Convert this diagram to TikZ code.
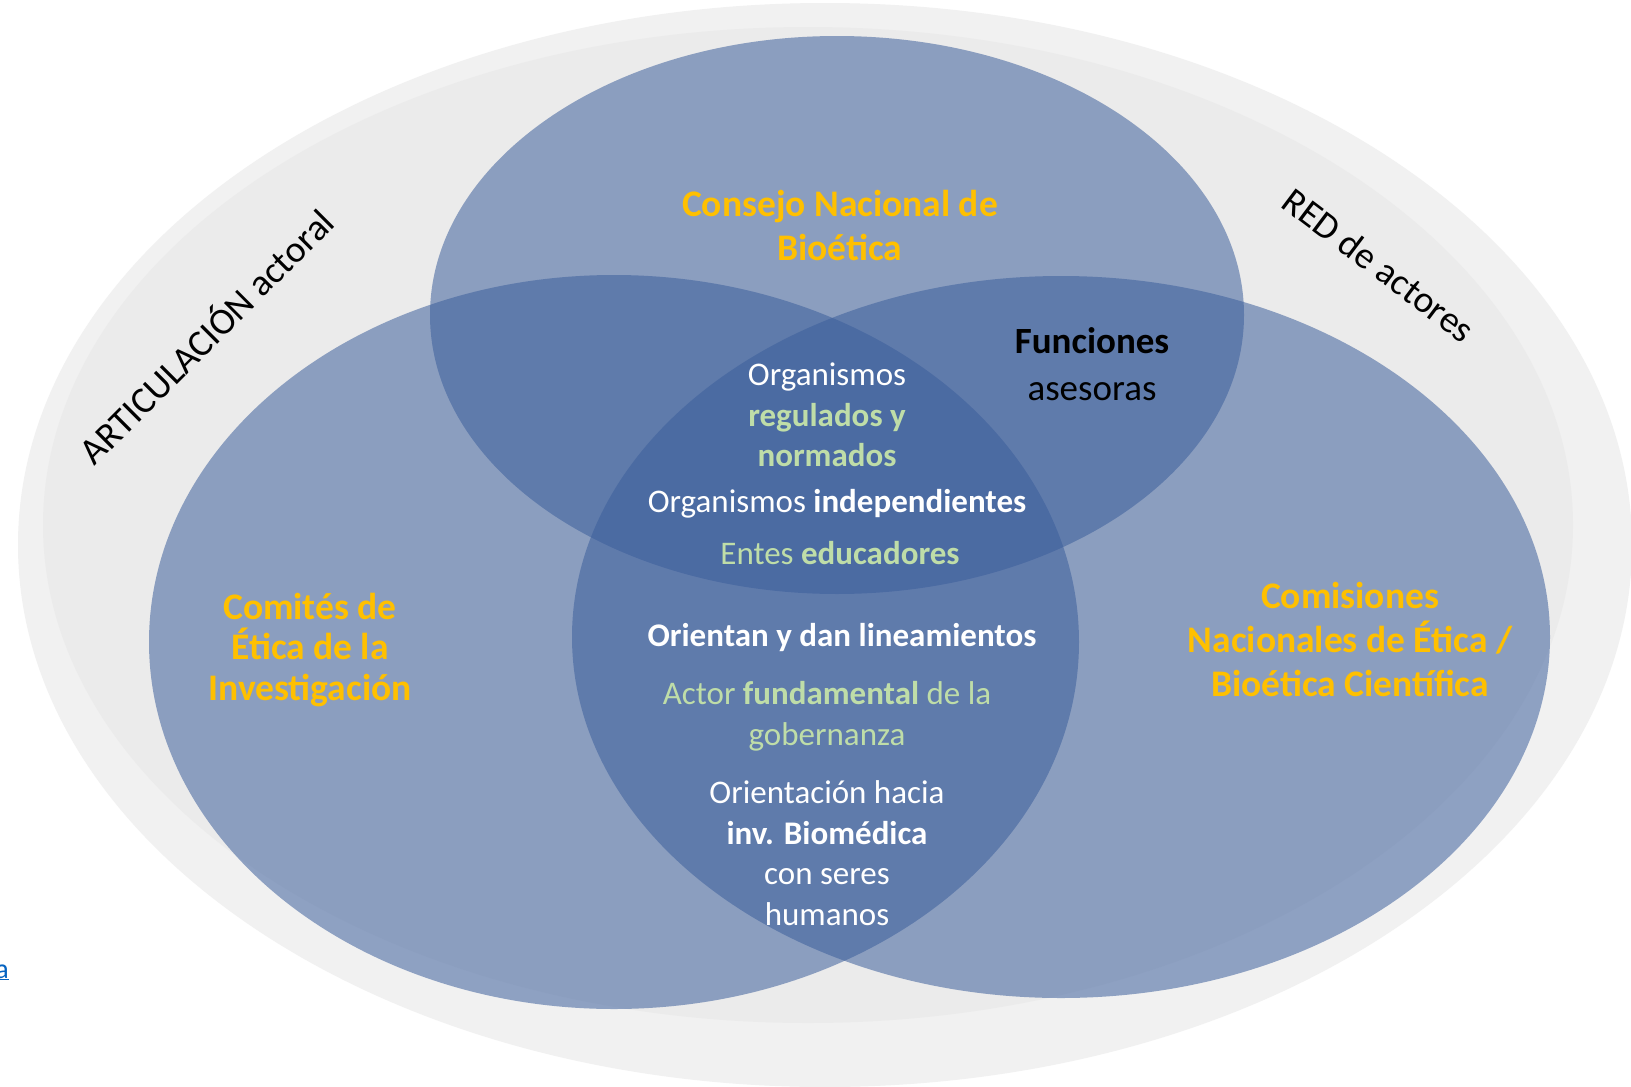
\documentclass[tikz,border=0pt]{standalone}
\usepackage{fontspec}
\setmainfont{Carlito}
\definecolor{outergray}{HTML}{F1F1F1}
\definecolor{innergray}{HTML}{EBEBEB}
\definecolor{setblue}{RGB}{59,94,155}
\definecolor{gold}{HTML}{FFC000}
\definecolor{lgreen}{HTML}{BFDDA8}
\definecolor{linkblue}{HTML}{0563C1}
\tikzset{
  setfill/.style={fill=setblue, fill opacity=0.54, draw=none},
  head/.style={text=gold, font=\fontsize{37.5}{44}\selectfont\bfseries, align=center},
  body/.style={text=white, font=\fontsize{33}{40.5}\selectfont, align=center},
  gbody/.style={text=lgreen, font=\fontsize{33}{40.5}\selectfont, align=center},
  side/.style={text=black, font=\fontsize{37.5}{46}\selectfont},
}
\begin{document}
\begin{tikzpicture}[x=1pt,y=-1pt]
\useasboundingbox (0,0) rectangle (1631,1087);
\fill[white] (0,0) rectangle (1631,1087);
% background ellipses
\fill[outergray] (825,545) ellipse [x radius=807, y radius=542];
\fill[innergray] (808,525) ellipse [x radius=765, y radius=498];
% three sets
\fill[setfill] (837,315) ellipse [x radius=407, y radius=279];
\fill[setfill] (614,642) ellipse [x radius=465, y radius=367];
\fill[setfill] (1061,637) ellipse [x radius=489, y radius=361];
% headings
\node[head] (cnb) at (840,225) {Consejo Nacional de\\Bioética};
\node[head, font=\fontsize{37.5}{40.6}\selectfont\bfseries] (cei) at (310,650) {Comités de\\Ética de la\\Investigación};
\node[head] (cne) at (1350,639) {Comisiones\\Nacionales de Ética /\\Bioética Científica};
% top-right overlap
\node[side, align=center, font=\fontsize{37}{47}\selectfont] (fun) at (1092,364) {\textbf{Funciones}\\asesoras};
% centre
\node[body] (org1) at (827,377) {Organismos};
\node[gbody, font=\fontsize{33}{40.5}\selectfont\bfseries] (reg) at (827,435) {regulados y\\normados};
\node[body] (ind) at (837,504) {Organismos \textbf{independientes}};
\node[gbody] (ent) at (840,553) {Entes \textbf{educadores}};
\node[body, font=\fontsize{33}{40.5}\selectfont\bfseries] (ori) at (842,638) {Orientan y dan lineamientos};
\node[gbody] (act) at (827,716) {Actor \textbf{fundamental} de la\\gobernanza};
\node[body] (inv) at (827,853) {Orientación hacia\\\textbf{inv. Biomédica}\\con seres\\humanos};
% rotated labels
\node[side, rotate=45] (art) at (205,335) {ARTICULACIÓN actoral};
\node[side, rotate=-37] (red) at (1379,265) {RED de actores};
% cut link fragment
\node[text=linkblue, font=\fontsize{28}{34}\selectfont, anchor=base east, inner sep=0pt] (lnk) at (9,978) {\underline{a}};
\end{tikzpicture}
\end{document}
